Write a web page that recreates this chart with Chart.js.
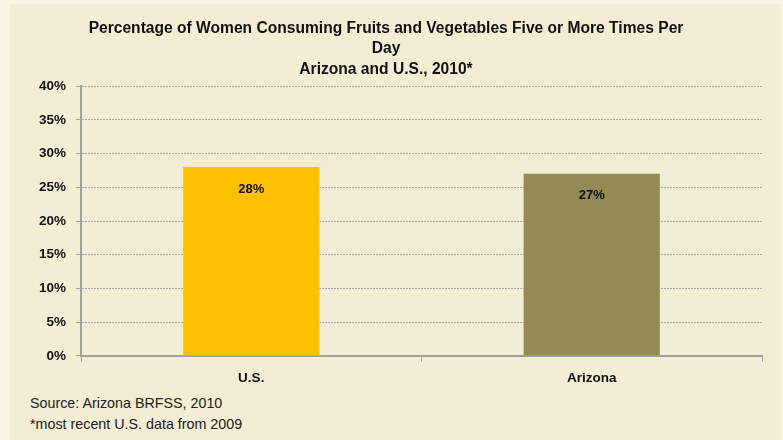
<!DOCTYPE html>
<html>
<head>
<meta charset="utf-8">
<script src="https://cdn.jsdelivr.net/npm/chart.js@4.4.1/dist/chart.umd.min.js"></script>
<style>
  html, body { margin: 0; padding: 0; background: #FBF4E5; width: 783px; height: 440px; overflow: hidden; }
  #panel { position: absolute; left: 10px; top: 4px; width: 771px; height: 436px; background: #F2EDD4; }
  #wrap { position: absolute; left: 0; top: 0; width: 771px; height: 390px; }
  .note { position: absolute; left: 20px; font-family: "Liberation Sans", sans-serif; font-size: 14.3px; color: #222; }
</style>
</head>
<body>
<div id="panel">
  <div id="wrap"><canvas id="c"></canvas></div>
  <div class="note" style="top:391px">Source: Arizona BRFSS, 2010</div>
  <div class="note" style="top:412px">*most recent U.S. data from 2009</div>
</div>
<script>
const categories = ["U.S.", "Arizona"];
const values = [28, 27];
const barColors = ["#FFC000", "#948A54"];
const yTicks = [0, 5, 10, 15, 20, 25, 30, 35, 40];
const titleLines = [
  "Percentage of Women Consuming Fruits and Vegetables Five or More Times Per",
  "Day",
  "Arizona and U.S., 2010*"
];

const FONT = '"Liberation Sans", sans-serif';

const labelPlugin = {
  id: 'barLabels',
  afterDatasetsDraw(chart) {
    const ctx = chart.ctx;
    const meta = chart.getDatasetMeta(0);
    ctx.save();
    ctx.font = 'bold 13px ' + FONT;
    ctx.fillStyle = '#111';
    ctx.textAlign = 'center';
    ctx.textBaseline = 'middle';
    meta.data.forEach((bar, i) => {
      ctx.fillText(values[i] + '%', bar.x, bar.y + 22);
    });
    ctx.restore();
  }
};

new Chart(document.getElementById('c'), {
  type: 'bar',
  data: {
    labels: categories,
    datasets: [{
      data: values,
      backgroundColor: barColors,
      borderWidth: 0,
      categoryPercentage: 0.8,
      barPercentage: 0.5
    }]
  },
  options: {
    responsive: true,
    maintainAspectRatio: false,
    animation: false,
    layout: { padding: { left: 0, right: 19, top: 0, bottom: 0 } },
    plugins: {
      legend: { display: false },
      tooltip: { enabled: false },
      title: {
        display: true,
        text: titleLines,
        color: '#111',
        font: { family: FONT, size: 15.6, weight: 'bold', lineHeight: 1.33 },
        padding: { top: 14, bottom: 6 }
      }
    },
    scales: {
      x: {
        grid: { display: true, drawOnChartArea: false, offset: true, tickLength: 6, tickColor: '#A0A0A0', tickWidth: 1 },
        border: { display: true, color: '#A0A0A0', width: 2 },
        ticks: { color: '#111', font: { family: FONT, size: 13.5, weight: 'bold' }, padding: 8 }
      },
      y: {
        min: 0, max: 40,
        afterBuildTicks(scale) { scale.ticks = yTicks.map(v => ({ value: v })); },
        afterFit(scale) { scale.width = 71; },
        grid: { color: '#A8A8A8', lineWidth: 1, tickLength: 5, tickColor: '#A0A0A0', drawTicks: true },
        border: { display: true, color: '#A0A0A0', width: 2, dash: [2, 1] },
        ticks: {
          color: '#111',
          font: { family: FONT, size: 13.5, weight: 'bold' },
          padding: 10,
          callback: v => v + '%'
        }
      }
    }
  },
  plugins: [labelPlugin]
});
</script>
</body>
</html>
